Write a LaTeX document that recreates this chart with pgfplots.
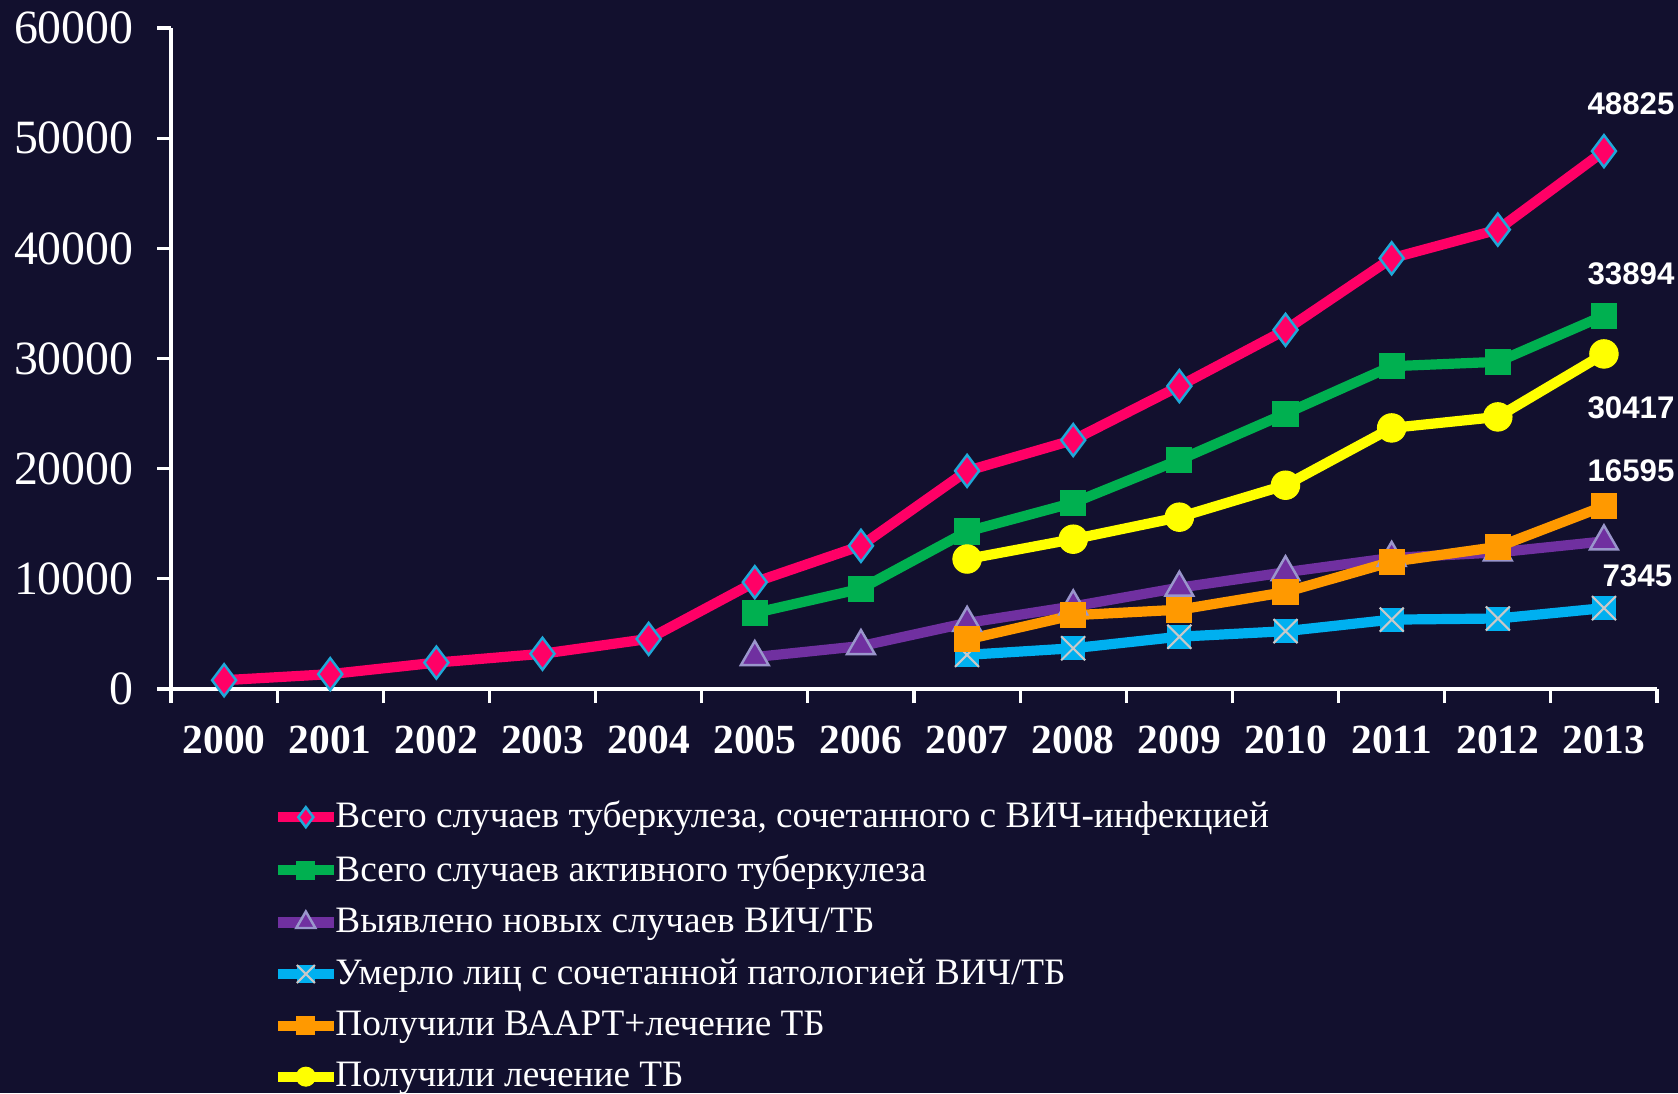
\documentclass[border=0pt]{standalone}
\usepackage{fontspec}
\setmainfont{Liberation Serif}
\newfontfamily\arialfont{Liberation Sans}
\usepackage{pgfplots}
\pgfplotsset{compat=1.18}
\definecolor{bg}{HTML}{12102E}
\definecolor{cpink}{HTML}{FF0066}
\definecolor{cgreen}{HTML}{00B050}
\definecolor{cpurple}{HTML}{7030A0}
\definecolor{cblue}{HTML}{00B0F0}
\definecolor{corange}{HTML}{FF9900}
\definecolor{cyellow}{HTML}{FFFF00}
\definecolor{ccyanedge}{HTML}{1FA8D8}
\definecolor{ctriedge}{HTML}{9A96CC}
\definecolor{cxgray}{HTML}{C8C8C8}
\pgfdeclareplotmark{sqx}{%
  \pgfpathrectangle{\pgfpoint{-\pgfplotmarksize}{-\pgfplotmarksize}}{\pgfpoint{2\pgfplotmarksize}{2\pgfplotmarksize}}%
  \pgfusepath{fill}%
  \pgfpathmoveto{\pgfpoint{-\pgfplotmarksize}{-\pgfplotmarksize}}%
  \pgfpathlineto{\pgfpoint{\pgfplotmarksize}{\pgfplotmarksize}}%
  \pgfpathmoveto{\pgfpoint{-\pgfplotmarksize}{\pgfplotmarksize}}%
  \pgfpathlineto{\pgfpoint{\pgfplotmarksize}{-\pgfplotmarksize}}%
  \pgfusepath{stroke}%
}
\begin{document}
\begin{tikzpicture}
\useasboundingbox (0,0) rectangle (16.78,10.93);
\fill[bg] (0,0) rectangle (16.78,10.93);
\begin{axis}[
  at={(1.71cm,4.04cm)}, anchor=south west,
  scale only axis, width=14.86cm, height=6.61cm,
  xmin=-0.5, xmax=13.5, ymin=0, ymax=60000,
  axis lines*=left,
  axis line style={white, line width=0.9pt},
  xtick={0,...,13},
  xticklabels={2000,2001,2002,2003,2004,2005,2006,2007,2008,2009,2010,2011,2012,2013},
  major x tick style={draw=none},
  minor xtick={-0.5,0.5,...,13.5},
  minor tick style={white, line width=0.9pt},
  minor tick length=1.4mm,
  ytick={0,10000,...,60000},
  major tick length=1.4mm,
  tick style={white, line width=0.9pt},
  tick align=outside,
  scaled y ticks=false,
  /pgf/number format/assume math mode=true,
  yticklabel={\pgfmathprintnumber[fixed,1000 sep={}]{\tick}},
  yticklabel style={font=\fontsize{13.6}{14}\selectfont, text=white, xshift=-1.1mm},
  xticklabel style={font=\fontsize{11.8}{13}\selectfont\bfseries, text=white, yshift=-1.0mm},
  legend style={at={(0.068,-0.158)}, anchor=north west, draw=none, fill=none,
    text=white, font=\fontsize{10.6}{14}\selectfont, row sep=0.72mm,
    legend cell align=left, inner sep=0pt, nodes={inner xsep=1pt},
    /tikz/every odd column/.append style={column sep=-0.7mm}},
  legend image code/.code={
    \draw[#1, mark repeat=2, mark phase=2] plot coordinates {(0cm,0cm) (0.28cm,0cm) (0.56cm,0cm)};
  },
  every axis plot/.append style={line width=2.9pt},
  clip=false,
]
\addplot[cpink, mark=diamond*, mark size=1.6mm, mark options={fill=cpink, draw=ccyanedge, line width=0.7pt},
  legend image post style={mark size=1.0mm}] coordinates {
(0,800) (1,1350) (2,2400) (3,3200) (4,4550) (5,9700) (6,13000) (7,19800) (8,22600) (9,27500) (10,32600) (11,39100) (12,41700) (13,48825)};
\addlegendentry{Всего случаев туберкулеза, сочетанного с ВИЧ-инфекцией}
\addplot[cgreen, mark=square*, mark size=1.25mm, mark options={fill=cgreen, draw=cgreen, line width=0.3pt},
  legend image post style={mark size=0.9mm}] coordinates {
(5,6900) (6,9100) (7,14300) (8,16900) (9,20800) (10,25000) (11,29300) (12,29700) (13,33894)};
\addlegendentry{Всего случаев активного туберкулеза}
\addplot[cpurple, mark=triangle*, mark size=1.6mm, mark options={fill=cpurple, draw=ctriedge, line width=0.7pt},
  legend image post style={mark size=1.1mm}] coordinates {
(5,2900) (6,3900) (7,6000) (8,7500) (9,9200) (10,10600) (11,11900) (12,12400) (13,13400)};
\addlegendentry{Выявлено новых случаев ВИЧ/ТБ}
\addplot[cblue, mark=sqx, mark size=1.2mm, mark options={fill=cblue, draw=cxgray, line width=0.6pt},
  legend image post style={mark size=0.9mm}] coordinates {
(7,3100) (8,3700) (9,4750) (10,5250) (11,6300) (12,6400) (13,7345)};
\addlegendentry{Умерло лиц с сочетанной патологией ВИЧ/ТБ}
\addplot[corange, mark=square*, mark size=1.25mm, mark options={fill=corange, draw=corange, line width=0.3pt},
  legend image post style={mark size=0.9mm}] coordinates {
(7,4500) (8,6700) (9,7200) (10,8800) (11,11550) (12,12900) (13,16595)};
\addlegendentry{Получили ВААРТ+лечение ТБ}
\addplot[cyellow, mark=*, mark size=1.42mm, mark options={fill=cyellow, draw=cyellow, line width=0.3pt},
  legend image post style={mark size=0.95mm}] coordinates {
(7,11800) (8,13600) (9,15600) (10,18500) (11,23700) (12,24700) (13,30417)};
\addlegendentry{Получили лечение ТБ}
\node[text=white, font=\arialfont\bfseries\fontsize{8.9}{10}\selectfont] at (axis cs:13.255,53100) {48825};
\node[text=white, font=\arialfont\bfseries\fontsize{8.9}{10}\selectfont] at (axis cs:13.255,37670) {33894};
\node[text=white, font=\arialfont\bfseries\fontsize{8.9}{10}\selectfont] at (axis cs:13.255,25500) {30417};
\node[text=white, font=\arialfont\bfseries\fontsize{8.9}{10}\selectfont] at (axis cs:13.255,19790) {16595};
\node[text=white, font=\arialfont\bfseries\fontsize{8.9}{10}\selectfont] at (axis cs:13.315,10260) {7345};
\end{axis}
\end{tikzpicture}
\end{document}
